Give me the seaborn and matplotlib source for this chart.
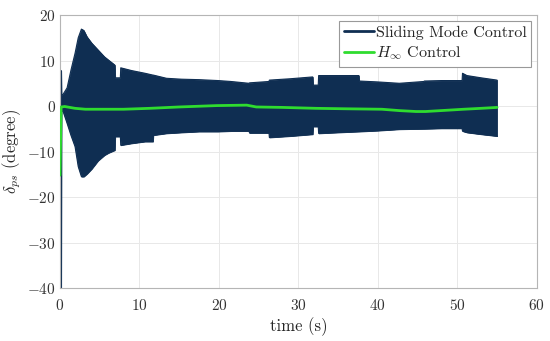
import pandas as pd
import seaborn as sns
from matplotlib import pyplot as plt

# envelope of the sliding mode control signal (chattering band)
smc_time = [0.0, 0.15, 0.2, 0.4, 0.9, 1.4, 1.9, 2.3, 2.7, 3.0, 3.4, 4.0, 4.8, 5.6, 6.1,
            6.9, 6.95, 7.6, 7.65, 9.0, 10.7, 11.7, 11.75, 13.4, 15.3, 17.5, 19.9,
            21.5, 23.8, 23.85, 26.3, 26.35, 29.0, 31.8, 31.85, 32.5, 32.55, 35.0,
            37.6, 37.65, 40.0, 42.7, 45.8, 45.85, 48.0, 50.6, 50.65, 51.2, 53.0, 55.0]
smc_upper = [7.8, 7.8, 2.4, 2.6, 4.0, 8.0, 11.6, 15.0, 16.9, 16.6, 15.2, 13.8, 12.3, 10.8, 10.1,
             9.0, 6.2, 6.2, 8.4, 7.8, 7.2, 6.8, 6.8, 6.1, 5.9, 5.8, 5.6,
             5.4, 5.0, 5.1, 5.4, 5.7, 6.0, 6.4, 4.6, 4.6, 6.7, 6.7,
             6.7, 5.5, 5.3, 5.0, 5.4, 5.5, 5.6, 5.6, 7.2, 6.7, 6.2, 5.7]
smc_lower = [-40.0, -40.0, -0.9, -1.2, -3.8, -6.5, -8.9, -13.3, -15.5, -15.5, -14.9, -13.8, -12.0, -10.8, -10.3,
             -9.7, -6.7, -6.7, -8.6, -8.2, -7.8, -7.8, -6.4, -6.0, -5.8, -5.6, -5.6,
             -5.5, -5.5, -5.9, -5.9, -6.9, -6.6, -6.2, -4.5, -4.5, -6.0, -5.8,
             -5.6, -5.6, -5.4, -5.1, -5.0, -5.0, -4.9, -4.9, -5.5, -5.8, -6.2, -6.6]

# H-infinity control response
hinf_time = [0.0, 0.15, 0.6, 1.9, 3.2, 5.0, 8.0, 11.3, 15.0, 19.7, 23.5, 24.7,
             28.0, 32.2, 36.0, 40.5, 42.7, 44.8, 46.0, 48.9, 50.8, 53.0, 55.0]
hinf_value = [-15.2, -0.2, -0.1, -0.5, -0.7, -0.7, -0.7, -0.5, -0.2, 0.1, 0.2, -0.2,
              -0.3, -0.5, -0.6, -0.7, -1.0, -1.2, -1.2, -0.9, -0.7, -0.5, -0.3]

x_ticks = [0, 10, 20, 30, 40, 50, 60]
y_ticks = [-40, -30, -20, -10, 0, 10, 20]

navy = "#0f2e52"
green = "#2fdc2f"

sns.set_theme(style="whitegrid")
plt.rcParams["font.family"] = "serif"
plt.rcParams["font.serif"] = ["cmr10", "DejaVu Serif"]
plt.rcParams["mathtext.fontset"] = "cm"
plt.rcParams["axes.formatter.use_mathtext"] = True
plt.rcParams["axes.unicode_minus"] = True

fig = plt.figure(figsize=(5.5, 3.41), dpi=100)
ax = fig.add_axes([0.109, 0.155, 0.867, 0.801])

smc = pd.DataFrame({"time": smc_time, "upper": smc_upper, "lower": smc_lower})
hinf = pd.DataFrame({"time": hinf_time, "value": hinf_value})

ax.fill_between(smc["time"], smc["lower"], smc["upper"], color=navy, lw=0.6,
                edgecolor=navy, zorder=2)
sns.lineplot(data=smc, x="time", y="upper", color=navy, lw=0.8, ax=ax, zorder=2)
sns.lineplot(data=smc, x="time", y="lower", color=navy, lw=0.8, ax=ax, zorder=2)
sns.lineplot(data=hinf, x="time", y="value", color=green, lw=2.0, ax=ax, zorder=3)

ax.set_xlim(0, 60)
ax.set_ylim(-40, 20)
ax.set_xticks(x_ticks)
ax.set_yticks(y_ticks)
ax.set_xlabel("time (s)", fontsize=12, labelpad=3)
ax.set_ylabel(r"$\delta_{ps}$ (degree)", fontsize=12, labelpad=3)
ax.tick_params(labelsize=11, colors="#888888", labelcolor="#333333",
               direction="in", length=3, width=0.6)
ax.tick_params(axis="x", pad=7)
ax.tick_params(axis="y", pad=3)
ax.grid(True, color="#e8e8e8", lw=0.7)
for side in ax.spines.values():
    side.set_color("#b5b5b5")
    side.set_linewidth(0.8)

handles = [plt.Line2D([], [], color=navy, lw=2), plt.Line2D([], [], color=green, lw=2)]
leg = ax.legend(handles, ["Sliding Mode Control", r"$H_\infty$ Control"],
                loc="upper right", fontsize=11.5, fancybox=False, framealpha=1,
                edgecolor="#999999", handlelength=1.9, handletextpad=0.1,
                borderpad=0.3, labelspacing=0.3, borderaxespad=0.35)
leg.get_frame().set_linewidth(0.8)

fig.savefig("out.png", dpi=100)
